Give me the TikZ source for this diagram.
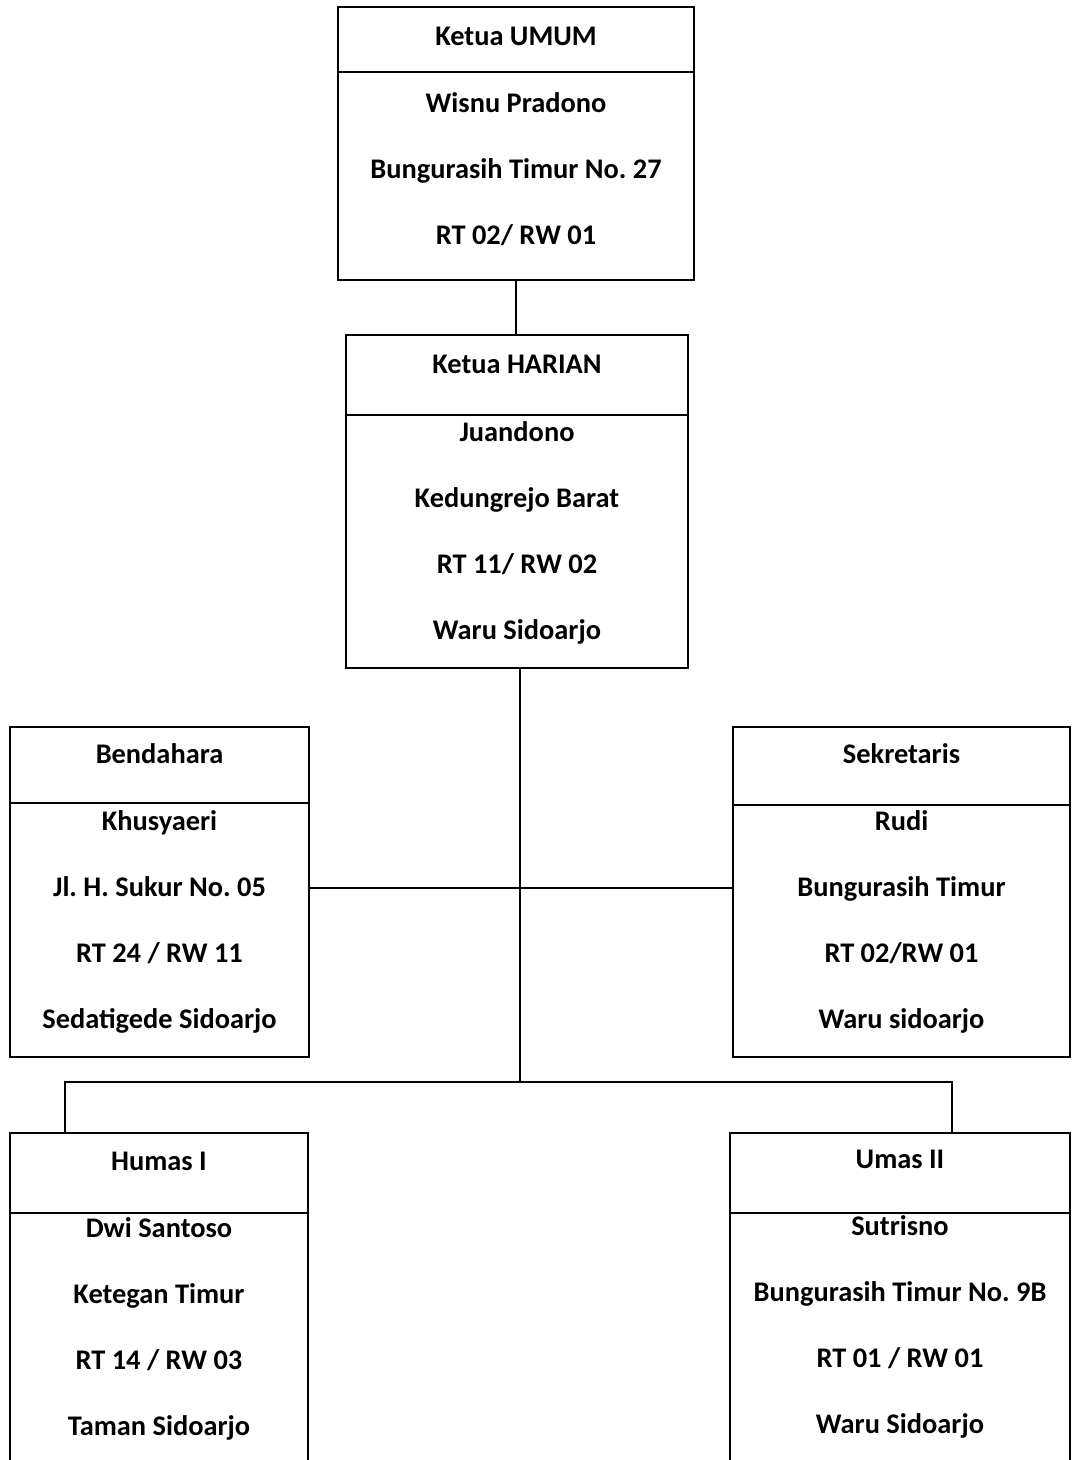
\documentclass[tikz,border=0pt]{standalone}
\usepackage{fontspec}
\setmainfont{Carlito}
\usetikzlibrary{positioning}
\frenchspacing

\begin{document}
\begin{tikzpicture}[x=0.5pt,y=-0.5pt,
    frame/.style={draw, line width=1.2pt, inner sep=0pt, outer sep=0pt},
    txt/.style={font=\fontsize{14.2}{33}\selectfont\bfseries, align=center, inner sep=0pt},
    link/.style={line width=1pt}]
  \clip (0,0) rectangle (1078,1460);

  % ketua umum
  \node[frame, minimum width=178pt, minimum height=32.5pt, anchor=north] (umumh) at (516,7) {};
  \node[frame, minimum width=178pt, minimum height=104pt, below=0pt of umumh] (umumb) {};
  \node[txt, below=10pt of umumh.north] (umumt) {Ketua UMUM};
  \node[txt, below=10pt of umumb.north] (umumn) {Wisnu Pradono\\Bungurasih Timur No. 27\\RT 02/ RW 01};

  % ketua harian
  \node[frame, minimum width=171pt, minimum height=40pt, anchor=north] (harianh) at (517,335) {};
  \node[frame, minimum width=171pt, minimum height=126.5pt, below=0pt of harianh] (harianb) {};
  \node[txt, below=10pt of harianh.north] (hariant) {Ketua HARIAN};
  \node[txt, below=3pt of harianb.north] (hariann) {Juandono\\Kedungrejo Barat\\RT 11/ RW 02\\Waru Sidoarjo};

  % bendahara
  \node[frame, minimum width=149.5pt, minimum height=38pt, anchor=north] (bendh) at (159.5,727) {};
  \node[frame, minimum width=149.5pt, minimum height=127pt, below=0pt of bendh] (bendb) {};
  \node[txt, below=8pt of bendh.north] (bendt) {Bendahara};
  \node[txt, below=3.5pt of bendb.north] (bendn) {Khusyaeri\\Jl. H. Sukur No. 05\\RT 24 / RW 11\\Sedatigede Sidoarjo};

  % sekretaris
  \node[frame, minimum width=168.5pt, minimum height=39pt, anchor=north] (sekh) at (901.5,727) {};
  \node[frame, minimum width=168.5pt, minimum height=126pt, below=0pt of sekh] (sekb) {};
  \node[txt, below=8pt of sekh.north] (sekt) {Sekretaris};
  \node[txt, below=2.5pt of sekb.north] (sekn) {Rudi\\Bungurasih Timur\\RT 02/RW 01\\Waru sidoarjo};

  % humas
  \node[frame, minimum width=149pt, minimum height=40pt, anchor=north] (humash) at (159,1133) {};
  \node[frame, minimum width=149pt, minimum height=170pt, below=0pt of humash] (humasb) {};
  \node[txt, below=9.5pt of humash.north] (humast) {Humas I};
  \node[txt, below=2pt of humasb.north] (humasn) {Dwi Santoso\\Ketegan Timur\\RT 14 / RW 03\\Taman Sidoarjo};

  \node[frame, minimum width=170pt, minimum height=40pt, anchor=north] (umash) at (900,1133) {};
  \node[frame, minimum width=170pt, minimum height=170pt, below=0pt of umash] (umasb) {};
  \node[txt, below=8.5pt of umash.north] (umast) {Umas II};
  \node[txt, below=1pt of umasb.north] (umasn) {Sutrisno\\Bungurasih Timur No. 9B\\RT 01 / RW 01\\Waru Sidoarjo};

  % garis
  \coordinate (midrow) at (520,888);
  \coordinate (bus) at (520,1082);
  \coordinate (busl) at (65,1082);
  \coordinate (busr) at (952,1082);

  \draw[link] (umumb.south) -- (umumb.south |- harianh.north);
  \draw[link] (harianb.south -| bus) -- (bus);
  \draw[link] (bendb.east |- midrow) -- (sekb.west |- midrow);
  \draw[link] (busl |- humash.north) -- (busl) -- (busr) -- (busr |- umash.north);

\end{tikzpicture}
\end{document}
